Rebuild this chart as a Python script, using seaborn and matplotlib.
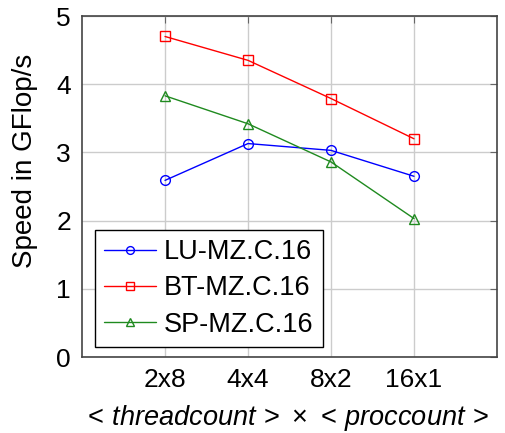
import pandas as pd
import seaborn as sns
import matplotlib.pyplot as plt

configs = ["2x8", "4x4", "8x2", "16x1"]
benchmarks = ["LU-MZ.C.16", "BT-MZ.C.16", "SP-MZ.C.16"]
lu_speed = [2.59, 3.13, 3.03, 2.65]
bt_speed = [4.70, 4.35, 3.79, 3.20]
sp_speed = [3.83, 3.42, 2.86, 2.03]

colors = {"LU-MZ.C.16": "#0000ff", "BT-MZ.C.16": "#ff0000", "SP-MZ.C.16": "#1f8a1f"}
markers = {"LU-MZ.C.16": "o", "BT-MZ.C.16": "s", "SP-MZ.C.16": "^"}

rows = []
for name, vals in zip(benchmarks, [lu_speed, bt_speed, sp_speed]):
    for i, v in enumerate(vals):
        rows.append({"pos": i, "config": configs[i], "bench": name, "speed": v})
df = pd.DataFrame(rows)

sns.set_style("white", {"text.color": "black", "xtick.color": "black", "ytick.color": "black",
                        "axes.labelcolor": "black"})
plt.rcParams["font.family"] = ["Liberation Sans", "DejaVu Sans"]
plt.rcParams["mathtext.fontset"] = "custom"
plt.rcParams["mathtext.rm"] = "Liberation Sans"
plt.rcParams["mathtext.it"] = "Liberation Sans:italic"

fig = plt.figure(figsize=(5.05, 4.33), dpi=100)
ax = fig.add_axes([0.1624, 0.1755, 0.8218, 0.7875])

sns.lineplot(data=df, x="pos", y="speed", hue="bench", style="bench",
             hue_order=benchmarks, style_order=benchmarks,
             palette=colors, markers=markers, dashes=False,
             markersize=7, linewidth=1.0, legend=False, ax=ax)
for line in ax.get_lines():
    line.set_markerfacecolor("none")
    line.set_markeredgecolor(line.get_color())
    line.set_markeredgewidth(1.0)

ax.set_xlim(-1, 4)
ax.set_ylim(0, 5)
ax.set_xticks(range(len(configs)))
ax.set_xticklabels(configs)
ax.set_yticks(range(6))
ax.grid(True, color="#cccccc", linewidth=1.0)
ax.set_axisbelow(True)
for s in ax.spines.values():
    s.set_color("#444444")
    s.set_linewidth(1.2)
ax.tick_params(direction="in", length=5, color="#666666", labelcolor="black",
               top=True, right=True, labelsize=19, pad=8)

ax.set_xlabel(r"$<\,\mathit{threadcount}\,>\,\times\,<\,\mathit{proccount}\,>$", fontsize=19.5)
ax.xaxis.set_label_coords(0.49, -0.135)
ax.set_ylabel("Speed in GFlop/s", fontsize=20)
ax.yaxis.set_label_coords(-0.105, 0.575)

leg = ax.legend(ax.get_lines(), benchmarks, loc="lower left",
                bbox_to_anchor=(0.031, 0.029), borderaxespad=0,
                fontsize=19.5, frameon=True, fancybox=False, framealpha=1,
                edgecolor="black", handlelength=1.9, handletextpad=0.3,
                labelspacing=0.38, borderpad=0.35, markerscale=0.8)
leg.get_frame().set_linewidth(1.0)

plt.savefig("out.png", dpi=100)
